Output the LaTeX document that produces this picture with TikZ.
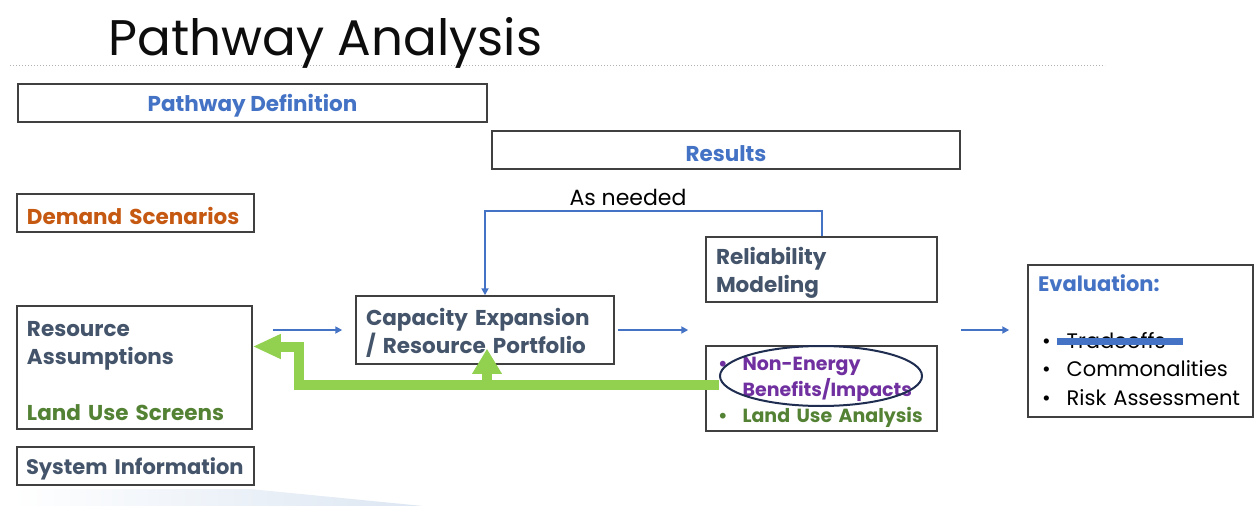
\documentclass[tikz,border=0pt]{standalone}
\usepackage{fontspec}
\setmainfont{Poppins}
\usetikzlibrary{arrows.meta,shapes.geometric}

\definecolor{pa_blue}{HTML}{4472C4}
\definecolor{pa_orange}{HTML}{C65911}
\definecolor{pa_slate}{HTML}{44546A}
\definecolor{pa_green}{HTML}{548235}
\definecolor{pa_lime}{HTML}{92D050}
\definecolor{pa_purple}{HTML}{7030A0}
\definecolor{pa_navy}{HTML}{1F2D50}
\definecolor{pa_frame}{HTML}{404040}
\definecolor{pa_wash}{HTML}{DCE6F2}

\newcommand{\palift}{\rule{0pt}{23pt}}

\begin{document}
\begin{tikzpicture}[x=1pt, y=-1pt]
        \tikzstyle{pa_box}   = [shape = rectangle, draw = pa_frame, line width=1.5pt, fill=white,
                                inner xsep=10pt, inner ysep=0pt,
                                font=\bfseries\fontsize{21.5}{28}\selectfont]
        \tikzstyle{pa_ring}  = [shape = ellipse, draw = pa_navy, line width=2pt, inner sep=0pt]
        \tikzstyle{pa_flow}  = [draw = pa_blue, line width=2pt, -{Triangle[length=7pt, width=7pt]}]
        \tikzstyle{pa_back}  = [draw = pa_lime, line width=10pt]

        \useasboundingbox (0,0) rectangle (1254,506);

        % background wash and header rule
        \shade[left color=white, right color=pa_wash]
          (12,506) -- (12,489) -- (250,489) -- (423,506) -- cycle;
        \draw[gray!60, line width=1pt, dotted] (10,65) -- (1105,65);

        \node[anchor=base west, font=\fontsize{50}{56}\selectfont, text=black!95]
          at (105,55) (title) {Pathway Analysis};

        \node[pa_box, minimum width=469pt, minimum height=38pt, text=pa_blue]
          at (252.5,103) (def) {\palift Pathway Definition};
        \node[pa_box, minimum width=468pt, minimum height=38pt, text=pa_blue]
          at (726,150) (res) {\palift Results};

        \node[pa_box, minimum width=237pt, minimum height=38pt, text width=217pt, align=left, text=pa_orange]
          at (135.5,213) (dem) {\palift Demand Scenarios};
        \node[pa_box, minimum width=235pt, minimum height=123pt, text width=215pt, align=left, text=pa_slate]
          at (134.5,367.5) (resa) {\palift Resource\\Assumptions\\[28pt]\textcolor{pa_green}{Land Use Screens}};
        \node[pa_box, minimum width=237pt, minimum height=38pt, text width=219pt, inner xsep=9pt,
              align=left, text=pa_slate, font=\bfseries\fontsize{21}{28}\selectfont]
          at (135.5,466) (sys) {\palift System Information};

        \node[pa_box, minimum width=258pt, minimum height=68pt, text width=238pt, align=left, text=pa_slate]
          at (485,330) (cap) {\palift Capacity Expansion\\/ Resource Portfolio};
        \node[pa_box, minimum width=231pt, minimum height=65pt, text width=211pt, align=left, text=pa_slate]
          at (821.5,269.5) (rel) {\palift Reliability\\Modeling};
        \node[pa_box, minimum width=231pt, minimum height=85pt, text width=211pt, align=left,
              font=\bfseries\fontsize{19}{26}\selectfont]
          at (821.5,388.5) (neb) {%
            \begin{tabular}{@{\hspace{2pt}}l@{\hspace{15pt}}l@{}}
              \palift\textcolor{pa_purple}{\textbullet} & \textcolor{pa_purple}{Non-Energy}\\
                                                 & \textcolor{pa_purple}{Benefits/Impacts}\\
              \textcolor{pa_green}{\textbullet}  & \textcolor{pa_green}{Land Use Analysis}
            \end{tabular}};

        \node[pa_box, minimum width=225pt, minimum height=152pt, text width=205pt, align=left,
              font=\fontsize{21}{28.5}\selectfont]
          at (1140.5,341) (eva) {%
            \begin{tabular}{@{}l@{\hspace{16pt}}l@{}}
              \multicolumn{2}{@{}l}{\palift\bfseries\color{pa_blue}Evaluation:}\\
              & \\
              \hspace{4pt}\textbullet & Tradeoffs\\
              \hspace{4pt}\textbullet & Commonalities\\
              \hspace{4pt}\textbullet & Risk Assessment
            \end{tabular}};
        \draw[pa_blue, line width=7pt] (1057,341) -- (1183,341);

        \node[anchor=base, font=\fontsize{22}{26}\selectfont]
          at (628,205) (asn) {As needed};

        % forward flow
        \draw[pa_flow] ([xshift=20pt]resa.east |- cap.west) -- ([xshift=-13pt]cap.west);
        \draw[pa_flow] ([xshift=3pt]cap.east) -- ([xshift=-17pt]cap.east -| rel.west);
        \draw[pa_flow] ([xshift=23pt]rel.east |- cap.east) -- ([xshift=-18pt]eva.west |- cap.east);
        \draw[pa_flow] (rel.north) -- ++(0,-25) -| (cap.north);

        % feedback from non-energy benefits
        \node[pa_ring, minimum width=202pt, minimum height=60pt] at (821,376) (ring) {};
        \draw[pa_back, -{Triangle[length=28pt, width=23pt]}]
          ([yshift=-9pt]ring.west) -- ++(-420,0) |- ([yshift=21pt]resa.east);
        \draw[pa_back, -{Triangle[length=25pt, width=28pt]}]
          ([xshift=2pt]cap.south |- 0,385) -- ([xshift=2pt, yshift=16pt]cap.south);
      \end{tikzpicture}
\end{document}
